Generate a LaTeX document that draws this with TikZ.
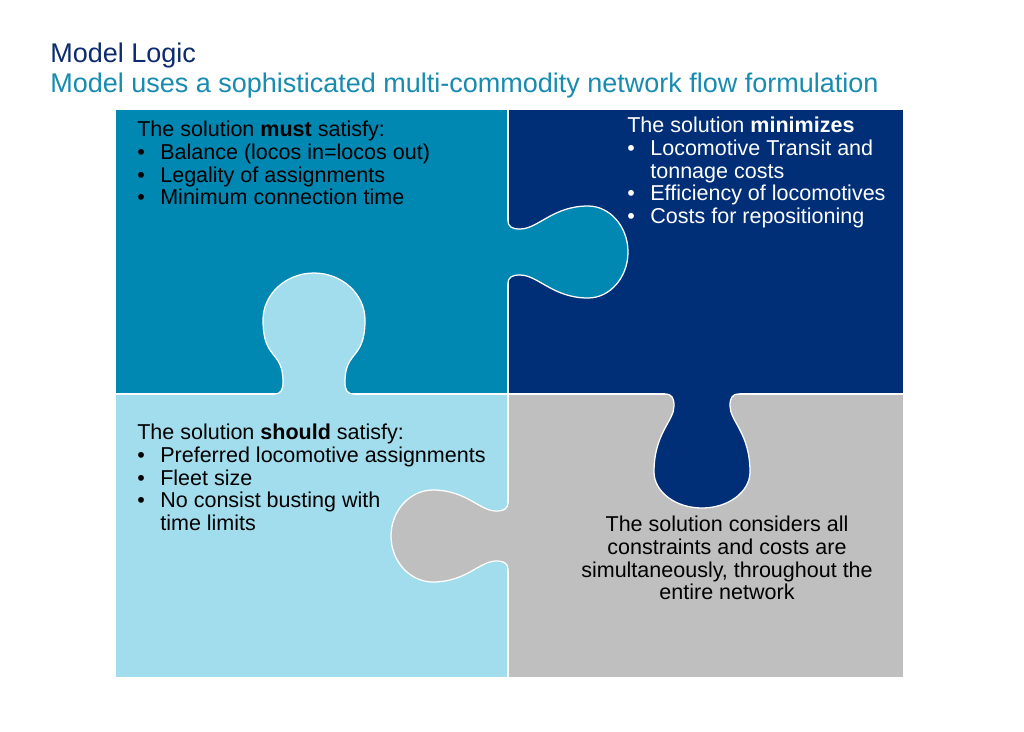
\documentclass[tikz,border=0pt]{standalone}
\usepackage{fontspec}
\setmainfont{Liberation Sans}
\usepackage{xcolor}
\usepackage{tikz}

\definecolor{pieceteal}{HTML}{0087B2}
\definecolor{piecenavy}{HTML}{002F77}
\definecolor{piecesky}{HTML}{A1DDEC}
\definecolor{piecegray}{HTML}{BFBFBF}
\definecolor{titlenavy}{HTML}{0D2B6E}
\definecolor{titleteal}{HTML}{188CB0}

\newcommand{\itembul}{\makebox[16.4pt][l]{\textbullet}}
\newcommand{\itemgap}{\hspace*{16.4pt}}

\begin{document}
\begin{tikzpicture}[x=0.025cm, y=-0.025cm,
  seam/.style={draw=white, line width=0.9pt},
  txt/.style={inner sep=0pt, align=left, font=\fontsize{15.3}{16.1}\selectfont},
  ttl/.style={inner sep=0pt, anchor=base west, font=\fontsize{19.2}{20}\selectfont}
]
  \useasboundingbox (0,0) rectangle (1024,731);
  \fill[white] (0,0) rectangle (1024,731);

  % the four pieces
  \fill[pieceteal] (116,110) rectangle (508,394);
  \fill[piecenavy] (508,110) rectangle (903,394);
  \fill[piecesky] (116,394) rectangle (508,677);
  \fill[piecegray] (508,394) rectangle (903,677);
  \draw[seam] (508,110) -- (508,677);
  \draw[seam] (116,394) -- (903,394);

  % knobs: centre / rotation / colour / neck / head / widest / length / neck flare
  \foreach \cx/\cy/\rot/\col/\n/\h/\w/\L/\a/\b in {508/252/90/pieceteal/23/46/80/120/0.375/0.56,
      314/394/180/piecesky/31/51/74/121/0.6/0.45, 702/394/0/piecenavy/28/48/78/114/0.35/0.5,
      508/536/-90/piecegray/25/46/75/117/0.375/0.56}{
    \begin{scope}[shift={(\cx,\cy)}, rotate=\rot]
      \fill[\col] (-\n-9,-3) -- (-\n-9,0) .. controls (-\n-2,0) and (-\n,4) .. (-\n,12)
        .. controls (-\n,\a*\w) and (-\h,\b*\w) .. (-\h,\w)
        .. controls (-\h,0.45*\w+0.55*\L) and (-0.55*\h,\L) .. (0,\L)
        .. controls (0.55*\h,\L) and (\h,0.45*\w+0.55*\L) .. (\h,\w)
        .. controls (\h,\b*\w) and (\n,\a*\w) .. (\n,12)
        .. controls (\n,4) and (\n+2,0) .. (\n+9,0) -- (\n+9,-3) -- cycle;
      \draw[seam] (-\n-9,0) .. controls (-\n-2,0) and (-\n,4) .. (-\n,12)
        .. controls (-\n,\a*\w) and (-\h,\b*\w) .. (-\h,\w)
        .. controls (-\h,0.45*\w+0.55*\L) and (-0.55*\h,\L) .. (0,\L)
        .. controls (0.55*\h,\L) and (\h,0.45*\w+0.55*\L) .. (\h,\w)
        .. controls (\h,\b*\w) and (\n,\a*\w) .. (\n,12)
        .. controls (\n,4) and (\n+2,0) .. (\n+9,0);
    \end{scope}
  }

  % titles
  \node[ttl, text=titlenavy] (title) at (50,62) {Model Logic};
  \node[ttl, text=titleteal] (subtitle) at (50,92) {Model uses a sophisticated multi-commodity network flow formulation};

  % piece texts
  \node[txt, anchor=north west] (must) at (137,121) {The solution \textbf{must} satisfy:\\
    \itembul Balance (locos in=locos out)\\
    \itembul Legality of assignments\\
    \itembul Minimum connection time};
  \node[txt, anchor=north west, text=white] (minimizes) at (627,117) {The solution \textbf{minimizes}\\
    \itembul Locomotive Transit and\\
    \itemgap tonnage costs\\
    \itembul Efficiency of locomotives\\
    \itembul Costs for repositioning};
  \node[txt, anchor=north west] (should) at (137,424) {The solution \textbf{should} satisfy:\\
    \itembul Preferred locomotive assignments\\
    \itembul Fleet size\\
    \itembul No consist busting with\\
    \itemgap time limits};
  \node[txt, anchor=north, align=center] (considers) at (727,516) {The solution considers all\\
    constraints and costs are\\
    simultaneously, throughout the\\
    entire network};
\end{tikzpicture}
\end{document}
